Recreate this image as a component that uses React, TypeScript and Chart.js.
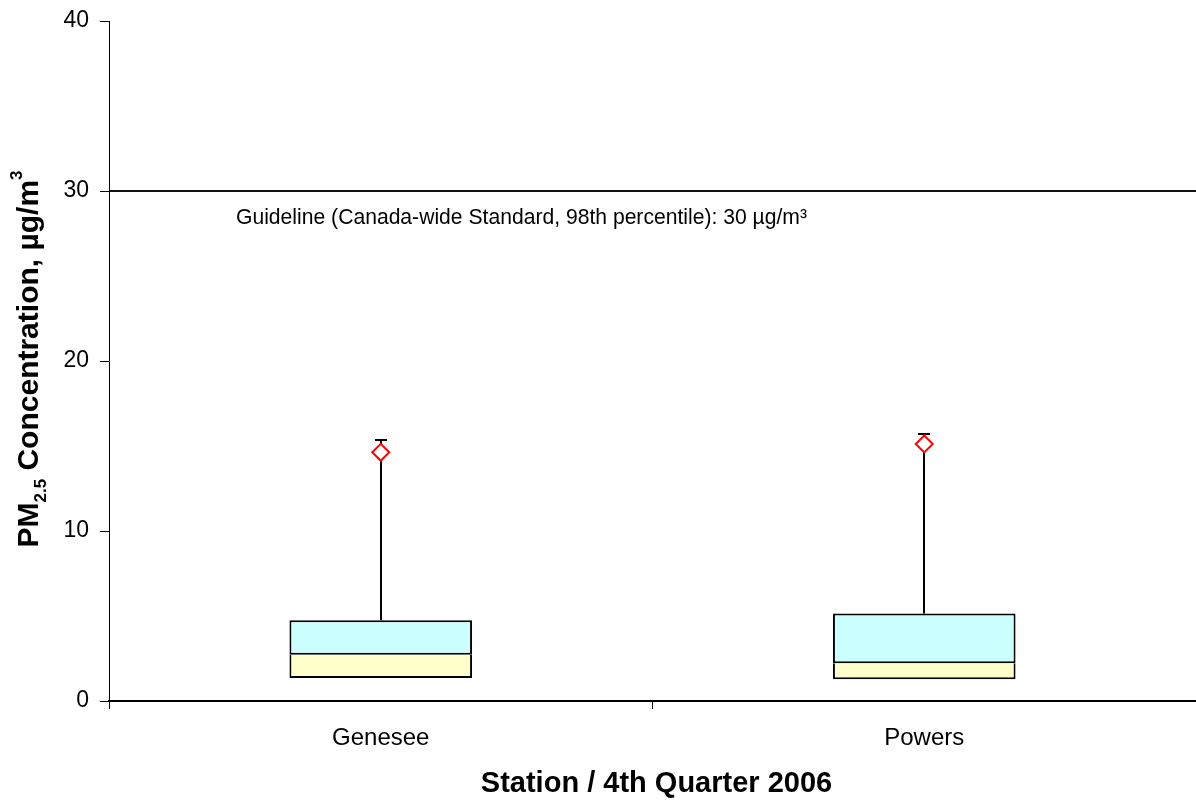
import React, { useEffect, useRef } from 'react';
import { Chart, registerables } from 'chart.js';

Chart.register(...registerables);

// ---- data ----
const stations = ['Genesee', 'Powers'];
const q1 = [1.35, 1.28];
const median = [2.72, 2.22];
const q3 = [4.75, 5.15];
const whiskerMax = [15.35, 15.7];
const p98 = [14.63, 15.12];
const guideline = 30;
const yTicks = [0, 10, 20, 30, 40];
const guidelineLabel = 'Guideline (Canada-wide Standard, 98th percentile): 30 µg/m³';
const xTitle = 'Station / 4th Quarter 2006';
const yTitleRuns = [
  { text: 'PM', kind: 'main' },
  { text: '2.5', kind: 'sub' },
  { text: ' Concentration, µg/m', kind: 'main' },
  { text: '3', kind: 'sup' },
];

const FAMILY = '"Liberation Sans", Arial, sans-serif';

const extrasPlugin = {
  id: 'boxExtras',
  beforeDatasetsDraw(chart: any) {
    const { ctx, scales } = chart;
    const x = scales.x;
    const y = scales.y;
    ctx.save();
    ctx.strokeStyle = '#000';
    ctx.lineWidth = 2;
    stations.forEach((_, i) => {
      const cx = Math.round(x.getPixelForValue(i));
      const yTop = Math.round(y.getPixelForValue(whiskerMax[i]));
      const yBox = y.getPixelForValue(q3[i]);
      ctx.beginPath();
      ctx.moveTo(cx, yBox);
      ctx.lineTo(cx, yTop);
      ctx.moveTo(cx - 6, yTop);
      ctx.lineTo(cx + 6, yTop);
      ctx.stroke();
    });
    ctx.restore();
  },
  afterDraw(chart: any) {
    const { ctx, scales, chartArea } = chart;
    const y = scales.y;
    ctx.save();
    // guideline
    const gy = Math.round(y.getPixelForValue(guideline));
    ctx.strokeStyle = '#111';
    ctx.lineWidth = 2;
    ctx.beginPath();
    ctx.moveTo(chartArea.left, gy);
    ctx.lineTo(chartArea.right, gy);
    ctx.stroke();

    ctx.fillStyle = '#000';
    ctx.font = `22px ${FAMILY}`;
    ctx.textBaseline = 'alphabetic';
    ctx.textAlign = 'left';
    ctx.save();
    ctx.translate(chartArea.left + 127, gy + 33);
    ctx.scale(0.96, 1);
    ctx.fillText(guidelineLabel, 0, 0);
    ctx.restore();

    // x title
    ctx.font = `bold 29px ${FAMILY}`;
    ctx.textAlign = 'center';
    ctx.fillText(xTitle, (chartArea.left + chartArea.right) / 2 + 4, 792);

    // y title (rotated, with sub/superscript)
    const sizes: any = { main: 30, sub: 17, sup: 17 };
    const shifts: any = { main: 0, sub: 8, sup: -16 };
    let total = 0;
    yTitleRuns.forEach((r) => {
      ctx.font = `bold ${sizes[r.kind]}px ${FAMILY}`;
      total += ctx.measureText(r.text).width;
    });
    ctx.save();
    ctx.translate(38, (chartArea.top + chartArea.bottom) / 2 - 2);
    ctx.rotate(-Math.PI / 2);
    ctx.textAlign = 'left';
    let pos = -total / 2;
    yTitleRuns.forEach((r) => {
      ctx.font = `bold ${sizes[r.kind]}px ${FAMILY}`;
      ctx.fillText(r.text, pos, shifts[r.kind]);
      pos += ctx.measureText(r.text).width;
    });
    ctx.restore();
    ctx.restore();
  },
};

export default function App() {
  const ref = useRef<HTMLCanvasElement | null>(null);

  useEffect(() => {
    if (!ref.current) return;
    const chart = new Chart(ref.current, {
      type: 'bar',
      data: {
        labels: stations,
        datasets: [
          {
            type: 'line',
            label: '98th percentile',
            data: p98,
            showLine: false,
            pointStyle: 'rectRot',
            pointRadius: 8.5,
            pointBorderColor: '#FF0000',
            pointBackgroundColor: '#FFFFFF',
            pointBorderWidth: 2,
            order: 0,
            clip: false,
          } as any,
          {
            label: 'Q1 to median',
            data: stations.map((_, i) => [q1[i], median[i]]),
            backgroundColor: '#FFFFCC',
            borderColor: '#000',
            borderWidth: 2,
            borderSkipped: 'top',
            grouped: false,
            order: 2,
          } as any,
          {
            label: 'Median to Q3',
            data: stations.map((_, i) => [median[i], q3[i]]),
            backgroundColor: '#CCFFFF',
            borderColor: '#000',
            borderWidth: 2,
            borderSkipped: false,
            grouped: false,
            order: 1,
          } as any,
        ],
      },
      options: {
        responsive: false,
        animation: false,
        layout: { autoPadding: false, padding: { top: 21, left: 0, right: 0, bottom: 0 } },
        plugins: { legend: { display: false }, tooltip: { enabled: false } },
        datasets: { bar: { categoryPercentage: 1, barPercentage: 0.336 } } as any,
        scales: {
          x: {
            type: 'category',
            offset: true,
            grid: { offset: true, drawOnChartArea: false, tickLength: 8, color: '#000', lineWidth: 1 },
            border: { color: '#000', width: 2 },
            ticks: { color: '#000', font: { family: FAMILY, size: 24 }, padding: 15 },
            afterFit: (s: any) => {
              s.height = 101;
              s.paddingLeft = 0;
              s.paddingRight = 0;
            },
          },
          y: {
            min: 0,
            max: 40,
            afterBuildTicks: (s: any) => {
              s.ticks = yTicks.map((v) => ({ value: v }));
            },
            grid: { drawOnChartArea: false, tickLength: 9, color: '#000', lineWidth: 1 },
            border: { color: '#000', width: 1 },
            ticks: { color: '#000', font: { family: FAMILY, size: 23 }, padding: 11 },
            afterFit: (s: any) => {
              s.width = 109;
              s.paddingTop = 0;
              s.paddingBottom = 0;
            },
          },
        },
      } as any,
      plugins: [extrasPlugin],
    });
    return () => chart.destroy();
  }, []);

  return (
    <div style={{ position: 'fixed', left: 0, top: 0, width: 1196, height: 802, background: '#fff' }}>
      <canvas ref={ref} width={1196} height={802} style={{ width: 1196, height: 802, display: 'block' }} />
    </div>
  );
}
